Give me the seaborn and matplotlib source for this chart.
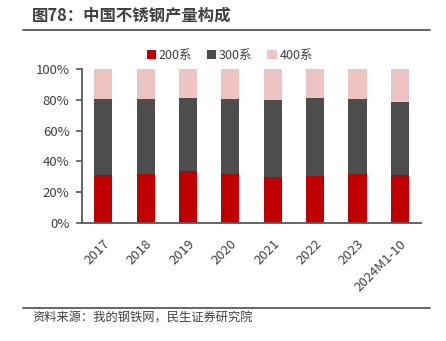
import matplotlib
matplotlib.use("Agg")
import matplotlib.pyplot as plt
import seaborn as sns
import pandas as pd
import numpy as np
from matplotlib.patches import Patch
from matplotlib.lines import Line2D

sns.set_style("white")
plt.rcParams['font.family'] = ['Noto Sans CJK SC', 'DejaVu Sans']

# 中国不锈钢产量构成（%）
years = ["2017", "2018", "2019", "2020", "2021", "2022", "2023", "2024M1-10"]
series_200 = [31.1, 31.7, 33.7, 31.7, 29.8, 30.6, 31.9, 31.1]
series_300 = [49.7, 48.7, 47.8, 49.1, 50.2, 50.7, 48.9, 47.4]
series_400 = [19.2, 19.6, 18.5, 19.2, 20.0, 18.7, 19.2, 21.5]
series_names = ["200系", "300系", "400系"]
colors = ["#C00000", "#4D4D4D", "#EDC3C4"]

df = pd.DataFrame({"year": years, "s200": series_200,
                   "s300": series_300, "s400": series_400})
df["c200"] = df["s200"] / 100
df["c300"] = (df["s200"] + df["s300"]) / 100
df["c400"] = (df["s200"] + df["s300"] + df["s400"]) / 100

fig = plt.figure(figsize=(4.46, 3.41), dpi=100)
ax = fig.add_axes([0.184, 0.347, 0.76, 0.45])

# stacked bars: draw cumulative totals from the top segment down
for col, c in zip(["c400", "c300", "c200"], colors[::-1]):
    sns.barplot(data=df, x="year", y=col, color=c, width=0.43,
                saturation=1, ax=ax, edgecolor="none", zorder=2)

ax.set_xlim(-0.5, len(years) - 0.5)
ax.set_ylim(0, 1)
ax.set_yticks(np.arange(0, 1.01, 0.2))
ax.set_yticklabels([f"{int(round(v * 100))}%" for v in np.arange(0, 1.01, 0.2)])
ax.set_xlabel("")
ax.set_ylabel("")

axis_color = "#595959"
for side in ["top", "right"]:
    ax.spines[side].set_visible(False)
for side in ["left", "bottom"]:
    ax.spines[side].set_color(axis_color)
    ax.spines[side].set_linewidth(1.3)

ax.tick_params(axis="y", which="both", left=True, length=4, width=1.2,
               color=axis_color, labelsize=9.5, labelcolor="#404040", pad=5)
ax.tick_params(axis="x", bottom=False, labelsize=9.5, labelcolor="#404040", pad=7)
plt.setp(ax.get_xticklabels(), rotation=45, ha="right", rotation_mode="anchor")

handles = [Patch(facecolor=c, edgecolor="none") for c in colors]
fig.legend(handles, series_names, loc="center", bbox_to_anchor=(0.515, 0.838),
           ncol=3, frameon=False, fontsize=9, handlelength=0.75,
           handleheight=0.75, handletextpad=0.2, columnspacing=1.2,
           labelcolor="#404040")

# title, rules and source note
fig.text(0.072, 0.955, "图78：中国不锈钢产量构成", fontsize=11.8, fontweight="bold",
         color="#404040", va="center", ha="left")
fig.add_artist(Line2D([0.052, 0.964], [0.912, 0.912], color="#595959",
                      linewidth=1.3, transform=fig.transFigure))
fig.add_artist(Line2D([0.052, 0.964], [0.097, 0.097], color="#595959",
                      linewidth=1.3, transform=fig.transFigure))
fig.text(0.072, 0.067, "资料来源：我的钢铁网，民生证券研究院", fontsize=8.8,
         color="#404040", va="center", ha="left")

fig.savefig("out.png", dpi=100)
